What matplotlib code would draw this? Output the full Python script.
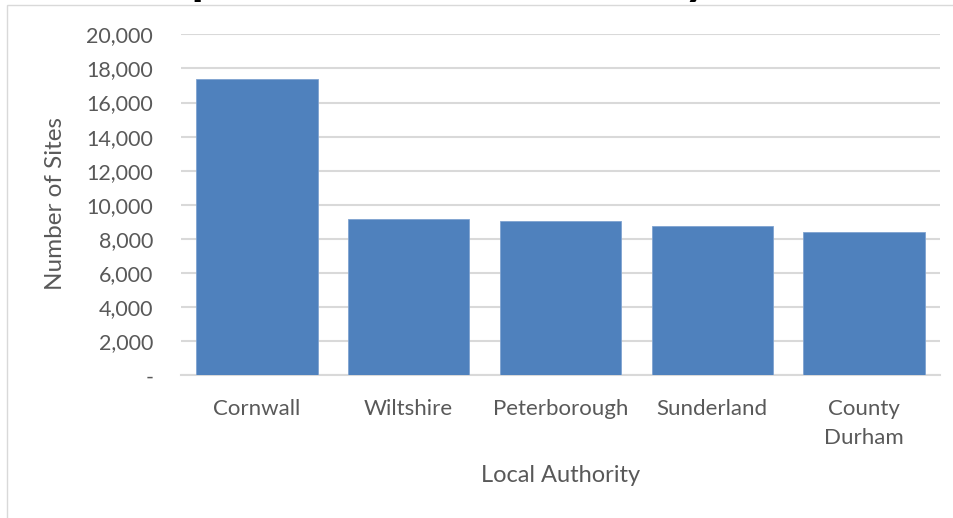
import matplotlib
matplotlib.use("Agg")
import matplotlib.pyplot as plt
from matplotlib.patches import Rectangle
from matplotlib.ticker import FuncFormatter
from matplotlib.font_manager import FontProperties

# Sites per local authority
authorities = ["Cornwall", "Wiltshire", "Peterborough", "Sunderland", "County\nDurham"]
sites = [17380, 9170, 9050, 8740, 8400]
y_ticks = [0, 2000, 4000, 6000, 8000, 10000, 12000, 14000, 16000, 18000, 20000]

title_text = "Top 5 Local Authorities by Number of Sites"

FONT = "Lato"
GREY_TXT = "#595959"
GRID = "#D9D9D9"
BAR = "#4F81BD"

plt.rcParams["font.family"] = [FONT, "DejaVu Sans"]

W, H = 954, 518
fig = plt.figure(figsize=(W / 100, H / 100), dpi=100)
fig.patch.set_facecolor("white")

# chart area border
fig.patches.append(Rectangle((7 / W, -0.1), 1.2, 1.1 - 5.5 / H,
                             transform=fig.transFigure, fill=False,
                             edgecolor=GRID, linewidth=1.0))

left, right, top, bottom = 181, 940, 34.3, 375.3
ax = fig.add_axes([left / W, 1 - bottom / H, (right - left) / W, (bottom - top) / H])

x = range(len(authorities))
ax.bar(x, sites, width=0.8, color=BAR, edgecolor="#7FA3D1", linewidth=0.6, zorder=3)

ax.set_xlim(-0.5, len(authorities) - 0.5)
ax.set_ylim(0, 20000)
ax.set_yticks(y_ticks)
ax.yaxis.set_major_formatter(FuncFormatter(lambda v, p: "-" if v == 0 else f"{int(v):,}"))
ax.set_xticks(list(x))
ax.set_xticklabels(authorities, linespacing=1.55)

ax.grid(axis="y", color=GRID, linewidth=1.5, zorder=0)
ax.set_axisbelow(True)
for s in ("top", "right", "left"):
    ax.spines[s].set_visible(False)
ax.spines["bottom"].set_color(GRID)
ax.spines["bottom"].set_linewidth(1.5)

ax.tick_params(axis="both", length=0, colors=GREY_TXT)
ax.tick_params(axis="y", pad=20, labelsize=15.5)
ax.tick_params(axis="x", pad=17, labelsize=16)

fig.text(56 / W, 1 - 204 / H, "Number of Sites", rotation=90, ha="center", va="center",
         fontsize=17.5, color=GREY_TXT)
fig.text((left + right) / 2 / W, 1 - 475 / H, "Local Authority", ha="center", va="center",
         fontsize=17, color=GREY_TXT)

# chart title, largely above the visible area: size it so the descenders of
# "Top" and "by" fall where the chart frame puts them
renderer = fig.canvas.get_renderer()
f0 = 20.0
fp = FontProperties(family=FONT, weight="bold", size=f0)
def width(s):
    return renderer.get_text_width_height_descent(s, fp, ismath=False)[0]
em0 = f0 * 100 / 72
p_mid0 = width("To") + 0.13 * em0
y_mid0 = width("Top 5 Local Authorities b") + 0.22 * em0
title_size = f0 * (694 - 198) / (y_mid0 - p_mid0)
scale = title_size / f0
title_x = 198 - p_mid0 * scale
fig.text(title_x / W, 1 + 6 / H, title_text, ha="left", va="baseline",
         fontsize=title_size, fontweight="bold", color="black")

fig.savefig("out.png", dpi=100, facecolor="white")
